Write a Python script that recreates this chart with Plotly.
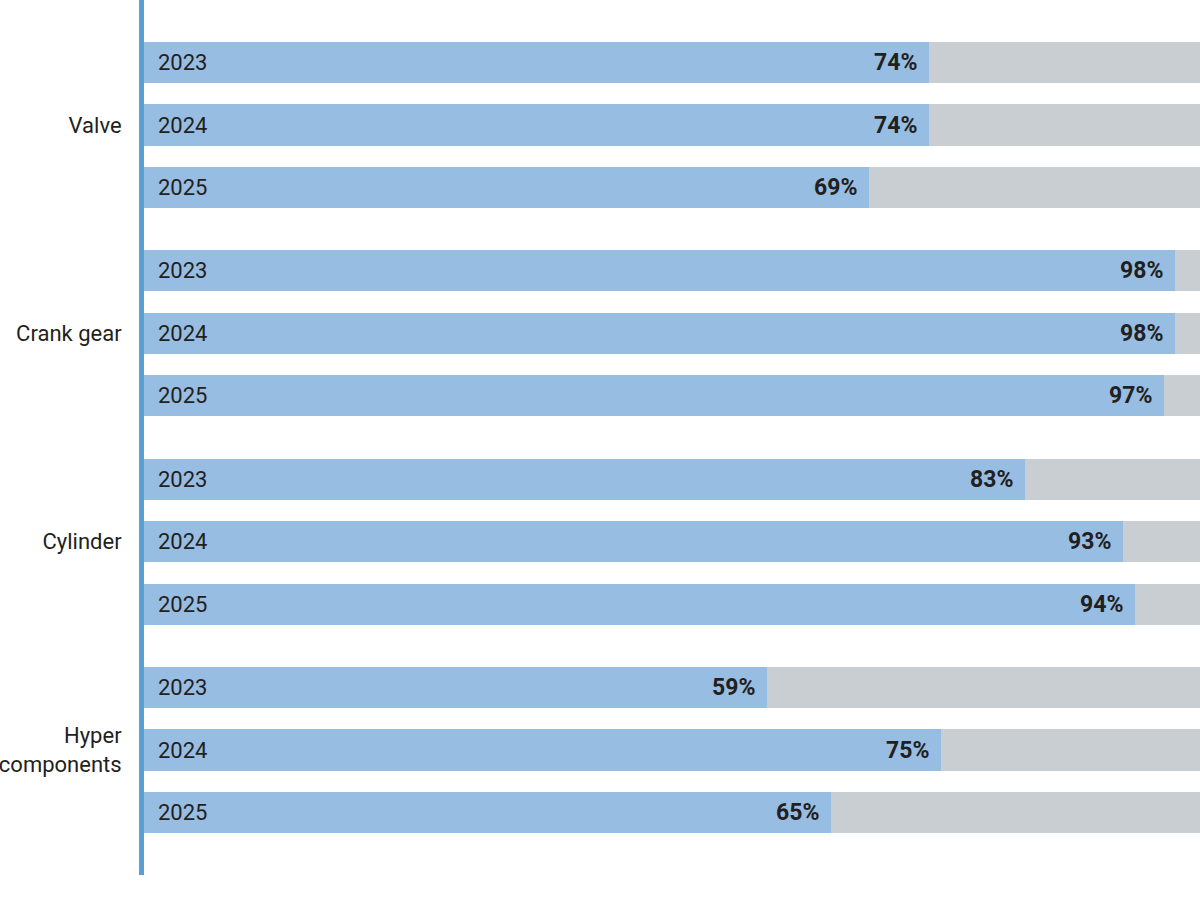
import plotly.graph_objects as go

categories = ["Valve", "Crank gear", "Cylinder", "Hyper<br>components"]
years = ["2023", "2024", "2025"]
values = [
    [74.3, 74.3, 68.7],
    [97.6, 97.6, 96.6],
    [83.4, 92.7, 93.8],
    [59.0, 75.5, 65.1],
]
labels = [
    ["74%", "74%", "69%"],
    ["98%", "98%", "97%"],
    ["83%", "93%", "94%"],
    ["59%", "75%", "65%"],
]

BLUE = "#97bde2"
GREY = "#c9ced3"
AXIS = "#5a9fd4"
TEXT = "#231f20"
FONT = "Roboto"

GROUP_PITCH = 10 / 3
ys, xs, ls, yl = [], [], [], []
for g, cat in enumerate(categories):
    for k, yr in enumerate(years):
        ys.append(1 + g * GROUP_PITCH + k)
        xs.append(values[g][k])
        ls.append(labels[g][k])
        yl.append(yr)
tickvals = [1 + g * GROUP_PITCH + 1 for g in range(len(categories))]

fig = go.Figure()
fig.add_trace(go.Bar(
    y=ys, x=[100] * len(ys), orientation="h", width=0.66,
    marker=dict(color=GREY, line=dict(width=0)), hoverinfo="skip",
))
fig.add_trace(go.Bar(
    y=ys, x=xs, orientation="h", width=0.66,
    marker=dict(color=BLUE, line=dict(width=0)), hoverinfo="skip",
))

annotations = []
for y, x, l, yr in zip(ys, xs, ls, yl):
    annotations.append(dict(
        x=x, y=y, xref="x", yref="y", text="<b>" + l + "</b>",
        xanchor="right", yanchor="middle", xshift=-10, showarrow=False,
        font=dict(family=FONT, size=23, color=TEXT),
    ))
    annotations.append(dict(
        x=0, y=y, xref="x", yref="y", text=yr,
        xanchor="left", yanchor="middle", xshift=12, showarrow=False,
        font=dict(family=FONT, size=22, color=TEXT),
    ))

fig.update_layout(
    width=1200, height=906,
    margin=dict(l=144, r=0, t=0, b=31),
    barmode="overlay", bargap=0,
    plot_bgcolor="white", paper_bgcolor="white",
    showlegend=False,
    annotations=annotations,
    xaxis=dict(range=[0, 100], showgrid=False, zeroline=False,
               showticklabels=False, showline=False, fixedrange=True),
    yaxis=dict(range=[14, 0], tickvals=tickvals, ticktext=categories,
               showgrid=False, zeroline=False, showline=True,
               linecolor=AXIS, linewidth=5, ticks="",
               ticklabelstandoff=13,
               tickfont=dict(family=FONT, size=22, color=TEXT)),
)

fig.write_html("out.html")
